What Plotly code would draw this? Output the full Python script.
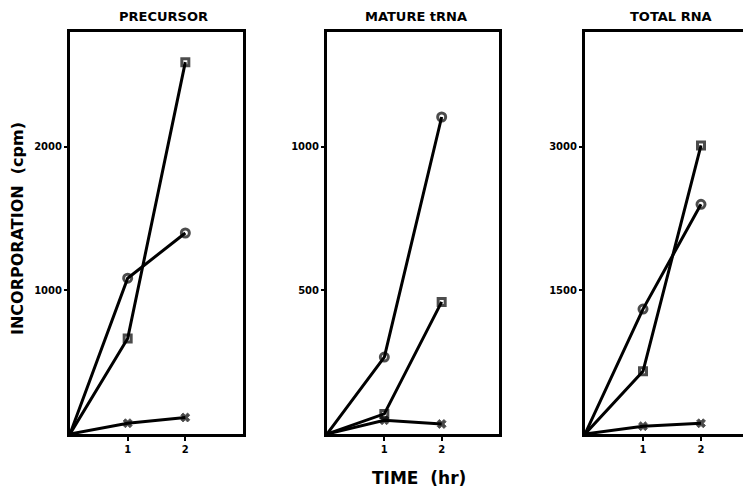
import plotly.graph_objects as go

# page offset caused by the browser's default body margin
OFF = 8
W, H = 751 - OFF, 489 - OFF

time_hr = [0, 1, 2]

precursor_circle = [0, 1085, 1400]
precursor_square = [0, 665, 2590]
precursor_cross = [0, 75, 115]

mature_circle = [0, 268, 1104]
mature_square = [0, 70, 460]
mature_cross = [0, 48, 35]

total_circle = [0, 1305, 2400]
total_square = [0, 655, 3015]
total_cross = [0, 82, 112]

panel_titles = ["PRECURSOR", "MATURE tRNA", "TOTAL RNA"]
y_ticks = [[1000, 2000], [500, 1000], [1500, 3000]]
y_ranges = [[0, 2800], [0, 1400], [0, 4200]]
x_ticks = [1, 2]

panels = [
    (precursor_circle, precursor_square, precursor_cross),
    (mature_circle, mature_square, mature_cross),
    (total_circle, total_square, total_cross),
]

# geometry in page pixels
px_left = [70, 327, 585]
px_right = [243, 499, 751]
x_ranges = [[0, 3], [0, 3], [0, (751 - 585) / 58.0]]
top_px, bot_px = 32, 434


def fx(p):
    return (p - OFF) / W


def fy(p):
    return (H - (p - OFF)) / H


fig = go.Figure()
black = "#000000"

for i, (circ, sq, cr) in enumerate(panels):
    xa = "x" if i == 0 else f"x{i+1}"
    ya = "y" if i == 0 else f"y{i+1}"
    for vals, sym, sz, lw in [
        (circ, "circle-open", 8, 3),
        (sq, "square-open", 7, 3),
        (cr, "x", 8, 0.8),
    ]:
        fig.add_trace(go.Scatter(
            x=time_hr, y=vals, xaxis=xa, yaxis=ya, mode="lines+markers",
            line=dict(color=black, width=3),
            marker=dict(symbol=sym, size=[0, sz, sz], color=black,
                        line=dict(color=black, width=lw)),
            showlegend=False, hoverinfo="skip", cliponaxis=False,
        ))

layout = dict(
    width=W, height=H, margin=dict(l=0, r=0, t=0, b=0),
    paper_bgcolor="white", plot_bgcolor="white", showlegend=False,
)
tickfont = dict(family="DejaVu Sans", size=10, color=black)
for i in range(3):
    sx = "" if i == 0 else str(i + 1)
    layout["xaxis" + sx] = dict(
        domain=[fx(px_left[i]), min(1.0, fx(px_right[i]))], range=x_ranges[i],
        anchor="y" + sx, showline=True, linewidth=3, linecolor=black,
        mirror=True, ticks="outside", ticklen=4, tickwidth=1.5, tickcolor=black,
        tickvals=x_ticks, ticktext=[f"<b>{t}</b>" for t in x_ticks],
        tickfont=tickfont, showgrid=False, zeroline=False, fixedrange=True,
    )
    layout["yaxis" + sx] = dict(
        domain=[fy(bot_px), fy(top_px)], range=y_ranges[i],
        anchor="x" + sx, showline=True, linewidth=3, linecolor=black,
        mirror=(i < 2), ticks="outside", ticklen=3, tickwidth=1.5, tickcolor=black,
        tickvals=y_ticks[i], ticktext=[f"<b>{t}</b>" for t in y_ticks[i]],
        tickfont=tickfont, showgrid=False, zeroline=False, fixedrange=True,
    )

title_x = [163, 416, 671]
annotations = []
for i, t in enumerate(panel_titles):
    annotations.append(dict(
        text=f"<b>{t}</b>", x=fx(title_x[i]), y=fy(17), xref="paper", yref="paper",
        showarrow=False, xanchor="center", yanchor="middle",
        font=dict(family="DejaVu Sans", size=13, color=black),
    ))
annotations.append(dict(
    text="<b>INCORPORATION  (cpm)</b>", x=fx(18), y=fy(229), xref="paper", yref="paper",
    showarrow=False, xanchor="center", yanchor="middle", textangle=-90,
    font=dict(family="DejaVu Sans", size=16, color=black),
))
annotations.append(dict(
    text="<b>TIME  (hr)</b>", x=fx(419), y=fy(478), xref="paper", yref="paper",
    showarrow=False, xanchor="center", yanchor="middle",
    font=dict(family="DejaVu Sans", size=17, color=black),
))
layout["annotations"] = annotations
fig.update_layout(**layout)
fig.write_html("out.html")
